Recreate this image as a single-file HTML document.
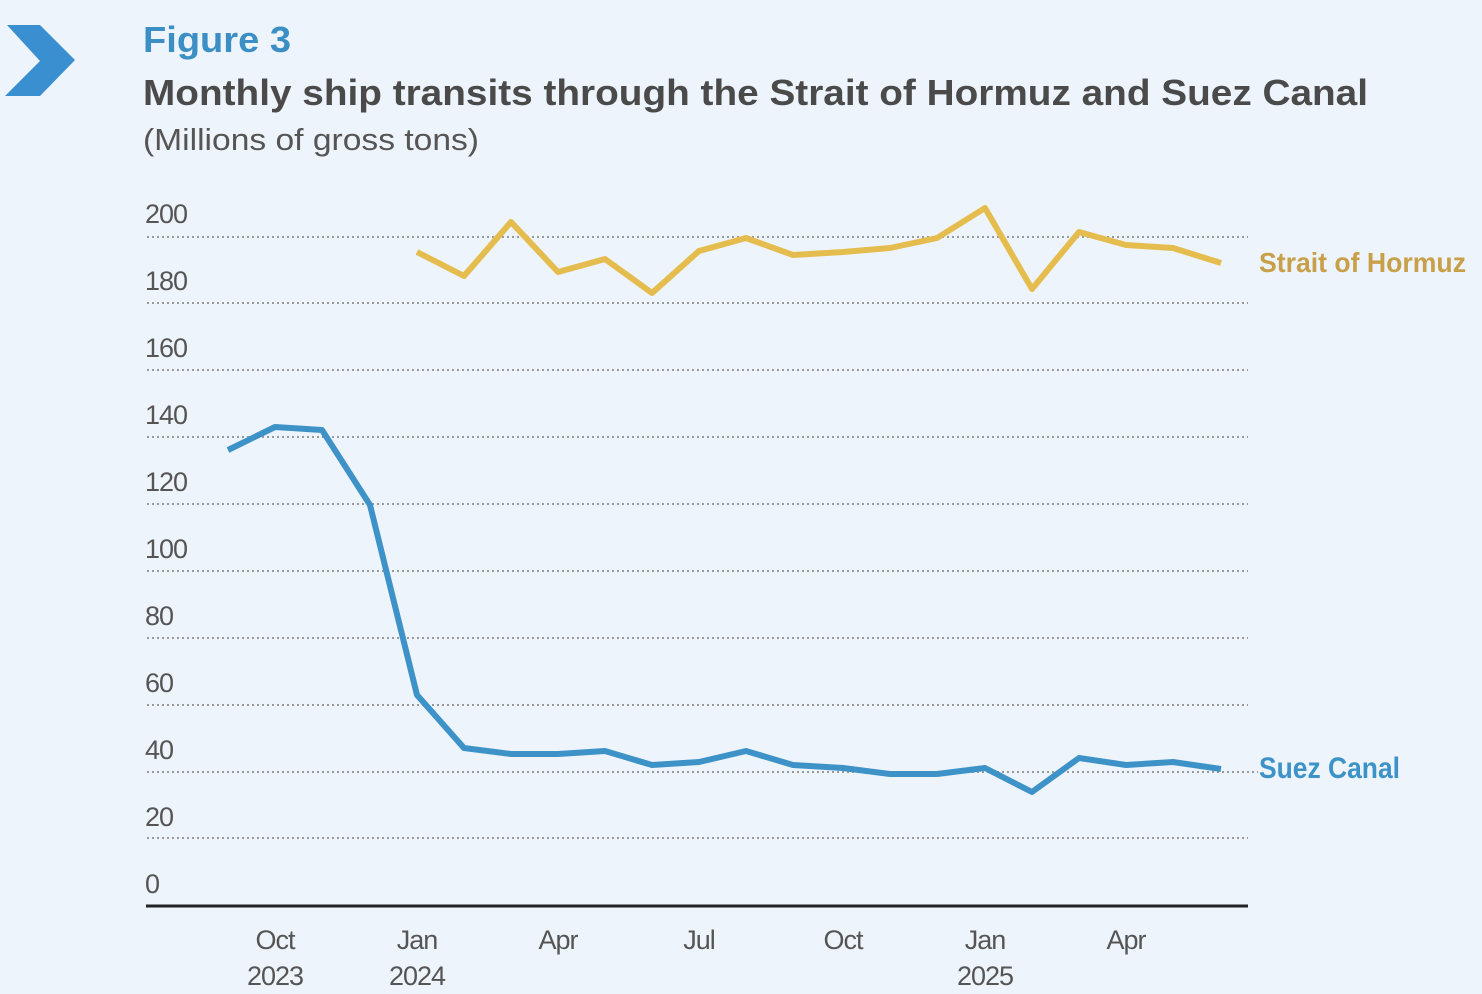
<!DOCTYPE html>
<html><head><style>
html,body{margin:0;padding:0;background:#eef4fb;}
svg{display:block;}
</style></head><body>
<svg width="1482" height="994" xmlns="http://www.w3.org/2000/svg" font-family="'Liberation Sans', sans-serif">
<rect width="1482" height="994" fill="#eef4fb"/>
<polygon points="7,25 40,25 75,60 40,96 5,96 40,61" fill="#3a8fd0"/>
<text x="143" y="52" font-size="36" font-weight="bold" fill="#3b8fc4" textLength="148" lengthAdjust="spacingAndGlyphs">Figure 3</text>
<text x="143" y="105" font-size="36" font-weight="bold" fill="#4a4a4a" textLength="1225" lengthAdjust="spacingAndGlyphs">Monthly ship transits through the Strait of Hormuz and Suez Canal</text>
<text x="143" y="150" font-size="31" fill="#555" textLength="336" lengthAdjust="spacingAndGlyphs">(Millions of gross tons)</text>
<g stroke="#999" stroke-width="2" stroke-dasharray="2,3">
<line x1="147" y1="237" x2="1248" y2="237"/>
<line x1="147" y1="303" x2="1248" y2="303"/>
<line x1="147" y1="370" x2="1248" y2="370"/>
<line x1="147" y1="437" x2="1248" y2="437"/>
<line x1="147" y1="504" x2="1248" y2="504"/>
<line x1="147" y1="571" x2="1248" y2="571"/>
<line x1="147" y1="638" x2="1248" y2="638"/>
<line x1="147" y1="705" x2="1248" y2="705"/>
<line x1="147" y1="772" x2="1258" y2="772"/>
<line x1="147" y1="838" x2="1248" y2="838"/>
</g>
<line x1="146" y1="906" x2="1248" y2="906" stroke="#222" stroke-width="3"/>
<g font-size="27" fill="#555" letter-spacing="-1">
<text x="145" y="223">200</text>
<text x="145" y="290">180</text>
<text x="145" y="357">160</text>
<text x="145" y="424">140</text>
<text x="145" y="491">120</text>
<text x="145" y="558">100</text>
<text x="145" y="625">80</text>
<text x="145" y="692">60</text>
<text x="145" y="759">40</text>
<text x="145" y="826">20</text>
<text x="145" y="893">0</text>
</g>
<g font-size="27" fill="#555" text-anchor="middle" letter-spacing="-1">
<text x="275" y="949">Oct</text><text x="275" y="985">2023</text>
<text x="417" y="949">Jan</text><text x="417" y="985">2024</text>
<text x="558" y="949">Apr</text>
<text x="699" y="949">Jul</text>
<text x="843" y="949">Oct</text>
<text x="985" y="949">Jan</text><text x="985" y="985">2025</text>
<text x="1126" y="949">Apr</text>
</g>
<polyline fill="none" stroke="#e5bd4f" stroke-width="6" stroke-linejoin="round" points="417,252 464,276 511,222 558,272 605,259 652,293 699,251 746,238 793,255 843,252 890,248 937,238 985,208 1032,289 1079,232 1126,245 1173,248 1221,263"/>
<polyline fill="none" stroke="#3d93c8" stroke-width="6" stroke-linejoin="round" points="228,450 275,427 322,430 370,505 417,695 464,748 511,754 558,754 605,751 652,765 699,762 746,751 793,765 843,768 890,774 937,774 985,768 1032,792 1079,758 1126,765 1173,762 1221,769"/>
<text x="1259" y="272" font-size="28" font-weight="bold" fill="#c9a04a" textLength="207" lengthAdjust="spacingAndGlyphs">Strait of Hormuz</text>
<text x="1259" y="778" font-size="30" font-weight="bold" fill="#3d93c8" textLength="141" lengthAdjust="spacingAndGlyphs">Suez Canal</text>
</svg>
</body></html>
